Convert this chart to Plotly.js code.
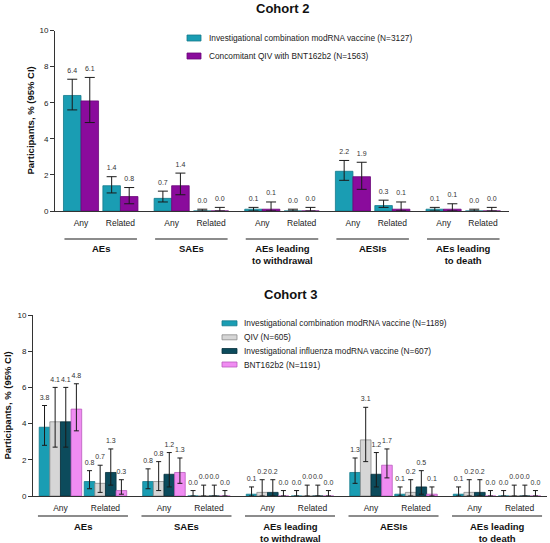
<!DOCTYPE html>
<html><head><meta charset="utf-8">
<script src="https://cdn.plot.ly/plotly-3.0.1.min.js"></script>
<style>html,body{margin:0;padding:0;background:#fff}#chart{width:550px;height:543px}</style>
</head><body><div id="chart"></div>
<script>
// ---------- DATA ----------
const groups = ["AEs", "SAEs", "AEs leading<br>to withdrawal", "AESIs", "AEs leading<br>to death"];
const subcats = ["Any", "Related"];

// Cohort 2
const c2Names = ["Investigational combination modRNA vaccine (N=3127)", "Concomitant QIV with BNT162b2 (N=1563)"];
const c2Combo   = [6.4, 1.4, 0.7, 0.0, 0.1, 0.0, 2.2, 0.3, 0.1, 0.0];
const c2ComboLo = [5.6, 1.0, 0.5, 0.0, 0.0, 0.0, 1.7, 0.2, 0.0, 0.0];
const c2ComboHi = [7.3, 1.9, 1.1, 0.1, 0.2, 0.1, 2.8, 0.6, 0.2, 0.1];
const c2Conc    = [6.1, 0.8, 1.4, 0.0, 0.1, 0.0, 1.9, 0.1, 0.1, 0.0];
const c2ConcLo  = [4.9, 0.4, 0.9, 0.0, 0.0, 0.0, 1.2, 0.0, 0.0, 0.0];
const c2ConcHi  = [7.4, 1.3, 2.1, 0.2, 0.5, 0.2, 2.7, 0.5, 0.4, 0.2];

// Cohort 3
const c3Names = ["Investigational combination modRNA vaccine (N=1189)", "QIV (N=605)", "Investigational influenza modRNA vaccine (N=607)", "BNT162b2 (N=1191)"];
const c3Combo   = [3.8, 0.8, 0.8, 0.0, 0.1, 0.0, 1.3, 0.1, 0.1, 0.0];
const c3ComboLo = [2.8, 0.4, 0.4, 0.0, 0.0, 0.0, 0.7, 0.0, 0.0, 0.0];
const c3ComboHi = [5.0, 1.4, 1.5, 0.3, 0.5, 0.3, 2.1, 0.5, 0.5, 0.3];
const c3Qiv     = [4.1, 0.7, 0.8, 0.0, 0.2, 0.0, 3.1, 0.2, 0.2, 0.0];
const c3QivLo   = [2.7, 0.2, 0.3, 0.0, 0.0, 0.0, 1.9, 0.0, 0.0, 0.0];
const c3QivHi   = [6.0, 1.7, 1.9, 0.6, 0.9, 0.6, 4.9, 0.9, 0.9, 0.6];
const c3Flu     = [4.1, 1.3, 1.2, 0.0, 0.2, 0.0, 1.2, 0.5, 0.2, 0.0];
const c3FluLo   = [2.7, 0.6, 0.5, 0.0, 0.0, 0.0, 0.5, 0.1, 0.0, 0.0];
const c3FluHi   = [6.0, 2.6, 2.4, 0.6, 0.9, 0.6, 2.4, 1.4, 0.9, 0.6];
const c3Bnt     = [4.8, 0.3, 1.3, 0.0, 0.0, 0.0, 1.7, 0.1, 0.0, 0.0];
const c3BntLo   = [3.6, 0.1, 0.7, 0.0, 0.0, 0.0, 1.0, 0.0, 0.0, 0.0];
const c3BntHi   = [6.2, 0.9, 2.1, 0.3, 0.3, 0.3, 2.6, 0.5, 0.3, 0.3];

const yTicks = [0, 2, 4, 6, 8, 10];

// ---------- STYLE / LAYOUT ----------
const W = 550, H = 543;
const FONT = "Liberation Sans, Arial, Helvetica, sans-serif";
const G = 2.3; // group spacing in category units
const teal = {fill: "#1a9db3", line: "#147a8c"};
const purple = {fill: "#8a0b9c", line: "#6a0678"};
const gray = {fill: "#d6d6d6", line: "#8a8a8a"};
const dark = {fill: "#0c4b5c", line: "#06303c"};
const pink = {fill: "#f08cf2", line: "#b95cbc"};

const pos = [], tickText = [];
groups.forEach((g, gi) => subcats.forEach((s, si) => { pos.push(gi * G + si); tickText.push(s); }));

const px = p => p / W;
const py = p => 1 - p / H;

const series2 = [
  {name: c2Names[0], v: c2Combo, lo: c2ComboLo, hi: c2ComboHi, st: teal},
  {name: c2Names[1], v: c2Conc, lo: c2ConcLo, hi: c2ConcHi, st: purple}
];
const series3 = [
  {name: c3Names[0], v: c3Combo, lo: c3ComboLo, hi: c3ComboHi, st: teal},
  {name: c3Names[1], v: c3Qiv, lo: c3QivLo, hi: c3QivHi, st: gray},
  {name: c3Names[2], v: c3Flu, lo: c3FluLo, hi: c3FluHi, st: dark},
  {name: c3Names[3], v: c3Bnt, lo: c3BntLo, hi: c3BntHi, st: pink}
];

const traces = [];
function addCohort(series, xa, ya, barW, capW, lblGap) {
  const n = series.length;
  series.forEach((s, i) => {
    const off = -n * barW / 2 + i * barW;
    traces.push({
      type: "bar", x: pos, y: s.v, offset: off, width: barW,
      xaxis: xa, yaxis: ya, name: s.name, showlegend: false,
      marker: {color: s.st.fill, line: {color: s.st.line, width: 0.8}},
      error_y: {type: "data", symmetric: false,
        array: s.hi.map((h, k) => +(h - s.v[k]).toFixed(3)),
        arrayminus: s.lo.map((l, k) => +(s.v[k] - l).toFixed(3)),
        color: "#1a1a1a", thickness: 1, width: capW},
      hoverinfo: "y"
    });
    traces.push({
      type: "scatter", mode: "markers+text", x: pos.map(p => p + off + barW / 2), y: s.hi,
      marker: {size: lblGap, opacity: 0, color: "#fff"},
      text: s.v.map(v => v.toFixed(1)), textposition: "top center",
      textfont: {family: FONT, size: 7, color: "#333"},
      xaxis: xa, yaxis: ya, showlegend: false, cliponaxis: false, hoverinfo: "skip"
    });
  });
}
addCohort(series2, "x", "y", 0.445, 5, 6);
addCohort(series3, "x2", "y2", 0.236, 2.5, 5);

function xAxis(dom, lo, anchor) {
  return {domain: dom, range: [lo, 4 * G + 1 - lo], anchor: anchor,
    tickmode: "array", tickvals: pos, ticktext: tickText, ticks: "",
    ticklabelstandoff: 4,
    showline: true, linecolor: "#333", linewidth: 1, showgrid: false, zeroline: false,
    tickfont: {family: FONT, size: 8.5, color: "#222"}, fixedrange: true};
}
function yAxis(dom, anchor) {
  return {domain: dom, range: [0, 10], anchor: anchor, tickmode: "array", tickvals: yTicks,
    ticks: "outside", ticklen: 4, tickwidth: 1, tickcolor: "#333",
    showline: true, linecolor: "#333", linewidth: 1, showgrid: false, zeroline: false,
    tickfont: {family: FONT, size: 8, color: "#222"}, fixedrange: true};
}

const shapes = [], annotations = [];
function groupLabels(xref, lineY, textTop, hw) {
  groups.forEach((g, gi) => {
    const c = gi * G + 0.5;
    shapes.push({type: "line", xref: xref, yref: "paper", x0: c - hw, x1: c + hw, y0: py(lineY), y1: py(lineY),
      line: {color: "#666", width: 1.5}});
    annotations.push({xref: xref, yref: "paper", x: c, y: py(textTop), xanchor: "center", yanchor: "top",
      text: "<b>" + g.replace("<br>", "</b><br><b>") + "</b>", showarrow: false,
      font: {family: FONT, size: 9.5, color: "#111"}});
  });
}
groupLabels("x", 239, 241, 0.92);
groupLabels("x2", 516, 518.5, 1.0);

function titleAnn(text, xc, yc) {
  annotations.push({xref: "paper", yref: "paper", x: px(xc), y: py(yc), xanchor: "center", yanchor: "middle",
    text: "<b>" + text + "</b>", showarrow: false, font: {family: FONT, size: 13, color: "#111"}});
}
titleAnn("Cohort 2", 282, 9);
titleAnn("Cohort 3", 290, 294);

function yTitle(xc, yc) {
  annotations.push({xref: "paper", yref: "paper", x: px(xc), y: py(yc), xanchor: "center", yanchor: "middle",
    textangle: -90, text: "<b>Participants, % (95% CI)</b>", showarrow: false,
    font: {family: FONT, size: 9.5, color: "#111"}});
}
yTitle(30, 120.5);
yTitle(7, 405.5);

function legend(series, x0, x1, textX, rowsY, h) {
  series.forEach((s, i) => {
    const yc = rowsY[i];
    shapes.push({type: "rect", xref: "paper", yref: "paper", x0: px(x0), x1: px(x1), y0: py(yc + h / 2), y1: py(yc - h / 2),
      fillcolor: s.st.fill, line: {color: s.st.line, width: 0.8}});
    annotations.push({xref: "paper", yref: "paper", x: px(textX), y: py(yc), xanchor: "left", yanchor: "middle",
      text: s.name, showarrow: false, font: {family: FONT, size: 8.3, color: "#222"}});
  });
}
legend(series2, 187, 201, 207, [38, 56], 6);
legend(series3, 222, 237, 242, [323.3, 337.3, 351, 364.5], 5);

const layout = {
  width: W, height: H, margin: {l: 0, r: 0, t: 0, b: 0},
  paper_bgcolor: "#fff", plot_bgcolor: "#fff", barmode: "overlay",
  font: {family: FONT, color: "#222"},
  xaxis: xAxis([px(55), px(509)], -0.66, "y"),
  yaxis: yAxis([py(211), py(30.5)], "x"),
  xaxis2: xAxis([px(33), px(547)], -0.61, "y2"),
  yaxis2: yAxis([py(496), py(315)], "x2"),
  shapes: shapes, annotations: annotations, showlegend: false
};
Plotly.newPlot("chart", traces, layout, {displayModeBar: false, staticPlot: true});
</script></body></html>
